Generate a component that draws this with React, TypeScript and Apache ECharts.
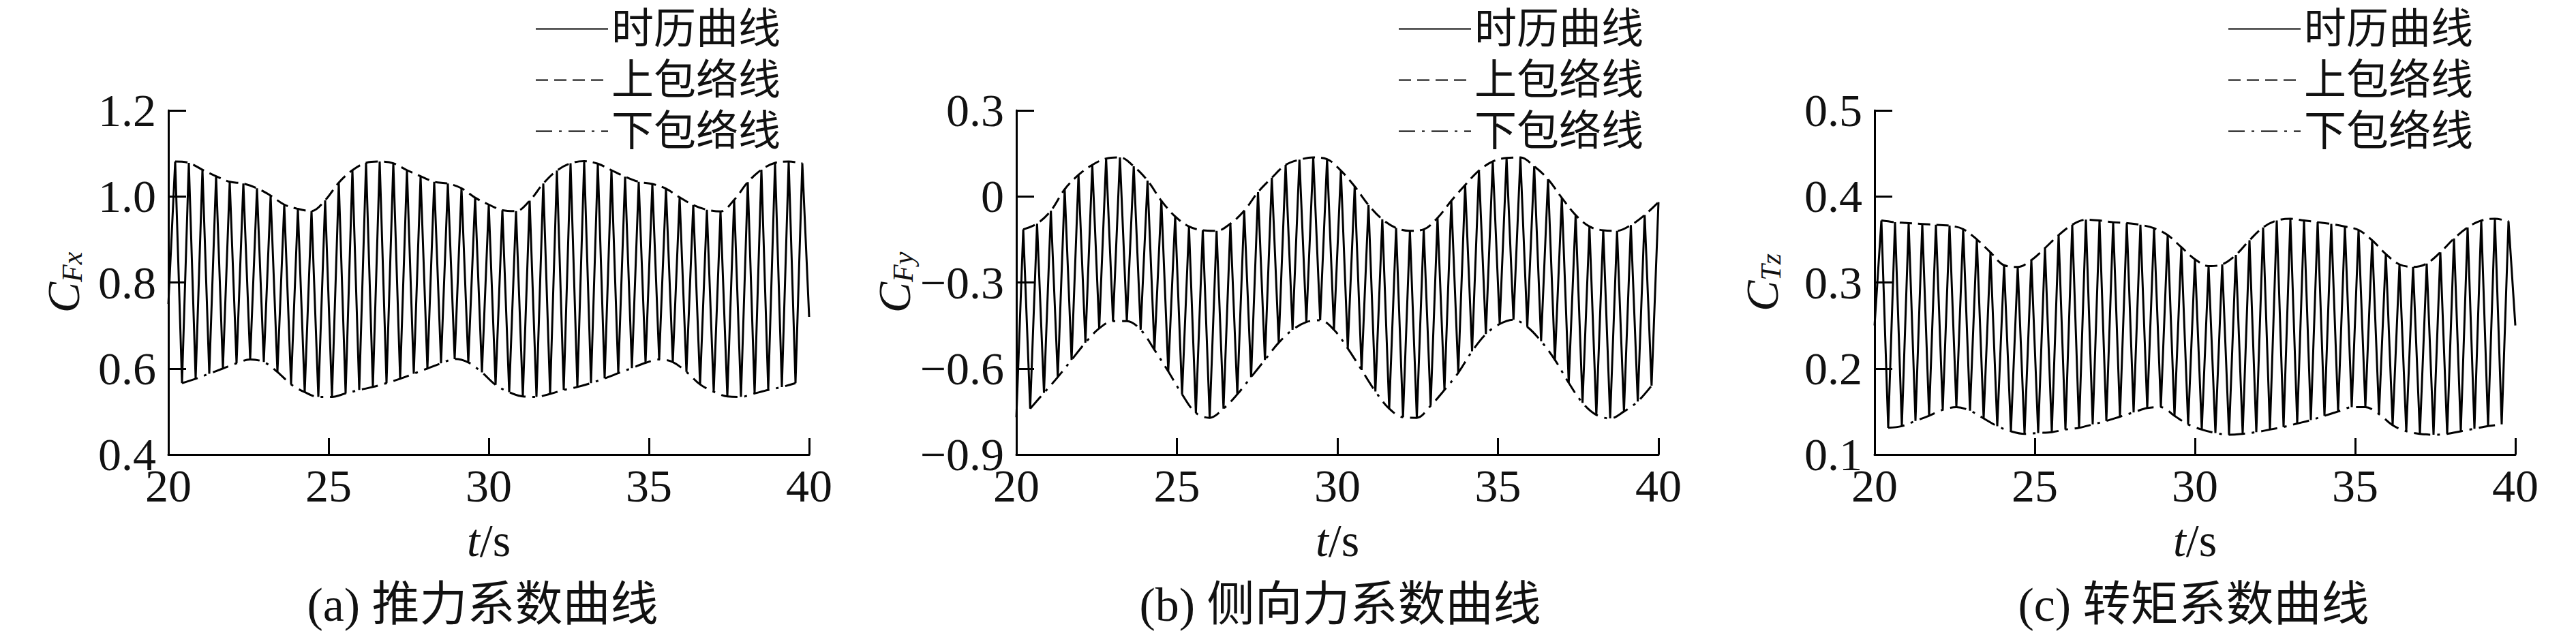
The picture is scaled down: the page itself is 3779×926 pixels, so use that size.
import React, { useEffect, useRef } from 'react';
import * as echarts from 'echarts';

// ---------- data ----------
const T_MIN = 20;
const T_MAX = 40;
const X_TICK_VALUES = [20, 25, 30, 35, 40];
const X_TICK_LABELS = ['20', '25', '30', '35', '40'];

const Y_TICK_VALUES_A = [0.4, 0.6, 0.8, 1.0, 1.2];
const Y_TICK_LABELS_A = ['0.4', '0.6', '0.8', '1.0', '1.2'];
const Y_TICK_VALUES_B = [-0.9, -0.6, -0.3, 0, 0.3];
const Y_TICK_LABELS_B = ['\u22120.9', '\u22120.6', '\u22120.3', '0', '0.3'];
const Y_TICK_VALUES_C = [0.1, 0.2, 0.3, 0.4, 0.5];
const Y_TICK_LABELS_C = ['0.1', '0.2', '0.3', '0.4', '0.5'];

const LEGEND_NAMES = ['时历曲线', '上包络线', '下包络线'];
const TITLES = ['(a) 推力系数曲线', '(b) 侧向力系数曲线', '(c) 转矩系数曲线'];

// (a) thrust coefficient C_Fx : value at t=20, successive peaks / troughs, value at t=40
const A_LEAD = 0.75;
const A_PEAKS = [
  1.081, 1.078, 1.062, 1.047, 1.034, 1.030, 1.019, 1.002, 0.981, 0.971,
  0.966, 0.991, 1.032, 1.061, 1.078, 1.081, 1.077, 1.061, 1.047, 1.034,
  1.030, 1.019, 0.997, 0.981, 0.968, 0.966, 0.990, 1.030, 1.060, 1.077,
  1.082, 1.076, 1.061, 1.046, 1.034, 1.029, 1.018, 0.998, 0.980, 0.969,
  0.965, 0.992, 1.033, 1.062, 1.078, 1.081, 1.077,
];
const A_TROUGHS = [
  0.566, 0.576, 0.588, 0.600, 0.612, 0.621, 0.615, 0.592, 0.563, 0.545,
  0.534, 0.534, 0.542, 0.550, 0.557, 0.566, 0.576, 0.588, 0.600, 0.612,
  0.622, 0.614, 0.591, 0.562, 0.545, 0.535, 0.534, 0.541, 0.550, 0.557,
  0.566, 0.577, 0.589, 0.601, 0.613, 0.621, 0.615, 0.592, 0.563, 0.546,
  0.535, 0.534, 0.542, 0.550, 0.557, 0.566,
];
const A_TAIL = 0.72;

// (b) side-force coefficient C_Fy : starts on a trough, ends on a peak
const B_LEAD = -0.77;
const B_PEAKS = [
  -0.115, -0.095, -0.05, 0.025, 0.075, 0.11, 0.132, 0.136, 0.105, 0.055,
  -0.015, -0.07, -0.105, -0.118, -0.12, -0.095, -0.05, 0.015, 0.065, 0.11,
  0.128, 0.136, 0.13, 0.09, 0.035, -0.03, -0.08, -0.11, -0.12, -0.115,
  -0.075, -0.015, 0.04, 0.09, 0.122, 0.134, 0.136, 0.105, 0.06, -0.005,
  -0.065, -0.105, -0.118, -0.12, -0.10, -0.065, -0.02,
];
const B_TROUGHS = [
  -0.74, -0.685, -0.63, -0.57, -0.51, -0.46, -0.435, -0.435, -0.465, -0.535,
  -0.61, -0.69, -0.755, -0.772, -0.74, -0.69, -0.63, -0.57, -0.51, -0.465,
  -0.438, -0.432, -0.465, -0.53, -0.605, -0.68, -0.74, -0.77, -0.772, -0.73,
  -0.675, -0.615, -0.54, -0.48, -0.445, -0.43, -0.455, -0.505, -0.57, -0.65,
  -0.72, -0.762, -0.774, -0.75, -0.715, -0.66,
];

// (c) torque coefficient C_Tz
const C_LEAD = 0.25;
const C_PEAKS = [
  0.372, 0.370, 0.369, 0.368, 0.367, 0.366, 0.362, 0.350, 0.335, 0.320,
  0.318, 0.326, 0.340, 0.355, 0.367, 0.373, 0.372, 0.370, 0.369, 0.367,
  0.363, 0.355, 0.341, 0.327, 0.319, 0.321, 0.332, 0.349, 0.364, 0.372,
  0.374, 0.372, 0.370, 0.368, 0.365, 0.361, 0.349, 0.333, 0.321, 0.318,
  0.322, 0.335, 0.351, 0.364, 0.372, 0.374, 0.371,
];
const C_TROUGHS = [
  0.131, 0.133, 0.139, 0.145, 0.152, 0.155, 0.151, 0.142, 0.133, 0.127,
  0.124, 0.125, 0.126, 0.129, 0.131, 0.135, 0.139, 0.144, 0.149, 0.154,
  0.155, 0.145, 0.135, 0.129, 0.125, 0.123, 0.124, 0.126, 0.129, 0.132,
  0.136, 0.140, 0.145, 0.150, 0.155, 0.155, 0.147, 0.134, 0.127, 0.124,
  0.123, 0.124, 0.127, 0.130, 0.133, 0.135,
];
const C_TAIL = 0.25;

// ---------- helpers ----------
const SERIF = '"Liberation Serif", "Noto Sans CJK SC", serif';
const INK = '#111';

type Rec = { lead: number | null; peaks: number[]; troughs: number[]; tail: number | null };

function buildRecord(r: Rec) {
  const seq: number[] = [];
  if (r.lead !== null) seq.push(r.lead);
  const off = seq.length;
  for (let k = 0; k < r.peaks.length; k++) {
    seq.push(r.peaks[k]);
    if (k < r.troughs.length) seq.push(r.troughs[k]);
  }
  if (r.tail !== null) seq.push(r.tail);
  const step = (T_MAX - T_MIN) / (seq.length - 1);
  const hist = seq.map((v, i) => [T_MIN + i * step, v]);
  const upper = r.peaks.map((v, k) => [T_MIN + (off + 2 * k) * step, v]);
  const lower = r.troughs.map((v, k) => [T_MIN + (off + 2 * k + 1) * step, v]);
  return { hist, upper, lower };
}

const RECORDS: Rec[] = [
  { lead: A_LEAD, peaks: A_PEAKS, troughs: A_TROUGHS, tail: A_TAIL },
  { lead: B_LEAD, peaks: B_PEAKS, troughs: B_TROUGHS, tail: null },
  { lead: C_LEAD, peaks: C_PEAKS, troughs: C_TROUGHS, tail: C_TAIL },
];

const GRIDS = [
  { left: 247, top: 162, width: 940, height: 505 },
  { left: 1491, top: 162, width: 942, height: 505 },
  { left: 2750, top: 162, width: 940, height: 505 },
];
const Y_RANGES = [
  { min: 0.4, max: 1.2, interval: 0.2, vals: Y_TICK_VALUES_A, labels: Y_TICK_LABELS_A, sub: 'Fx', gap: 120 },
  { min: -0.9, max: 0.3, interval: 0.3, vals: Y_TICK_VALUES_B, labels: Y_TICK_LABELS_B, sub: 'Fy', gap: 144 },
  { min: 0.1, max: 0.5, interval: 0.1, vals: Y_TICK_VALUES_C, labels: Y_TICK_LABELS_C, sub: 'Tz', gap: 131 },
];
const LEGEND_LEFT = [780, 2046, 3263];
const TITLE_X = [708, 1966, 3218];

function labelFor(vals: number[], labels: string[], v: number) {
  for (let i = 0; i < vals.length; i++) if (Math.abs(vals[i] - v) < 1e-6) return labels[i];
  return '';
}

export default function App() {
  const ref = useRef<HTMLDivElement>(null);

  useEffect(() => {
    document.body.style.margin = '0';
    document.body.style.overflow = 'hidden';
    if (!ref.current) return;
    const chart = echarts.init(ref.current, undefined, { renderer: 'svg' });

    const xAxis: any[] = [];
    const yAxis: any[] = [];
    const series: any[] = [];
    const legend: any[] = [];
    const graphic: any[] = [];

    GRIDS.forEach((g, gi) => {
      const yr = Y_RANGES[gi];
      xAxis.push({
        gridIndex: gi,
        type: 'value',
        min: T_MIN,
        max: T_MAX,
        interval: 5,
        axisLine: { show: true, onZero: false, lineStyle: { color: '#000', width: 3 } },
        axisTick: { show: true, inside: true, length: 24, lineStyle: { color: '#000', width: 3 } },
        axisLabel: {
          margin: 12,
          fontSize: 68,
          fontFamily: SERIF,
          color: INK,
          formatter: (v: number) => labelFor(X_TICK_VALUES, X_TICK_LABELS, v),
        },
        splitLine: { show: false },
        name: '{i|t}/s',
        nameLocation: 'middle',
        nameGap: 92,
        nameTextStyle: {
          fontSize: 68,
          fontFamily: SERIF,
          color: INK,
          rich: { i: { fontSize: 68, fontFamily: SERIF, fontStyle: 'italic', color: INK } },
        },
      });
      yAxis.push({
        gridIndex: gi,
        type: 'value',
        min: yr.min,
        max: yr.max,
        interval: yr.interval,
        axisLine: { show: true, onZero: false, lineStyle: { color: '#000', width: 3 } },
        axisTick: { show: true, inside: true, length: 26, lineStyle: { color: '#000', width: 3 } },
        axisLabel: {
          margin: 18,
          fontSize: 68,
          fontFamily: SERIF,
          color: INK,
          formatter: (v: number) => labelFor(yr.vals, yr.labels, v),
        },
        splitLine: { show: false },
        name: '{c|C}{s|' + yr.sub + '}',
        nameLocation: 'middle',
        nameRotate: 90,
        nameGap: yr.gap,
        nameTextStyle: {
          color: INK,
          rich: {
            c: { fontSize: 68, fontFamily: SERIF, fontStyle: 'italic', color: INK, verticalAlign: 'bottom' },
            s: { fontSize: 42, fontFamily: SERIF, fontStyle: 'italic', color: INK, verticalAlign: 'bottom' },
          },
        },
      });

      const rec = buildRecord(RECORDS[gi]);
      series.push({
        name: LEGEND_NAMES[0],
        type: 'line',
        xAxisIndex: gi,
        yAxisIndex: gi,
        data: rec.hist,
        showSymbol: false,
        symbol: 'none',
        lineStyle: { color: '#000', width: 3, type: 'solid' },
        itemStyle: { color: '#000' },
        z: 2,
      });
      series.push({
        name: LEGEND_NAMES[1],
        type: 'line',
        xAxisIndex: gi,
        yAxisIndex: gi,
        data: rec.upper,
        smooth: 0.35,
        showSymbol: false,
        symbol: 'none',
        lineStyle: { color: '#000', width: 3, type: [18, 9] },
        itemStyle: { color: '#000' },
        z: 3,
      });
      series.push({
        name: LEGEND_NAMES[2],
        type: 'line',
        xAxisIndex: gi,
        yAxisIndex: gi,
        data: rec.lower,
        smooth: 0.35,
        showSymbol: false,
        symbol: 'none',
        lineStyle: { color: '#000', width: 3, type: [24, 10, 4, 10] },
        itemStyle: { color: '#000' },
        z: 3,
      });

      legend.push({
        orient: 'vertical',
        left: LEGEND_LEFT[gi],
        top: 6,
        itemWidth: 106,
        itemHeight: 14,
        itemGap: 12,
        selectedMode: false,
        itemStyle: { color: 'rgba(0,0,0,0)', borderColor: 'rgba(0,0,0,0)', borderWidth: 0, opacity: 0 },
        textStyle: { fontSize: 62, lineHeight: 63, fontFamily: SERIF, color: INK },
        data: LEGEND_NAMES,
      });

      graphic.push({
        type: 'text',
        x: TITLE_X[gi],
        y: 887,
        style: {
          text: TITLES[gi],
          fontSize: 70,
          fontFamily: SERIF,
          fill: INK,
          align: 'center',
          verticalAlign: 'middle',
        },
      });
    });

    chart.setOption({
      animation: false,
      backgroundColor: '#fff',
      grid: GRIDS,
      xAxis,
      yAxis,
      series,
      legend,
      graphic,
    });

    return () => chart.dispose();
  }, []);

  return <div ref={ref} style={{ width: 3779, height: 926 }} />;
}
